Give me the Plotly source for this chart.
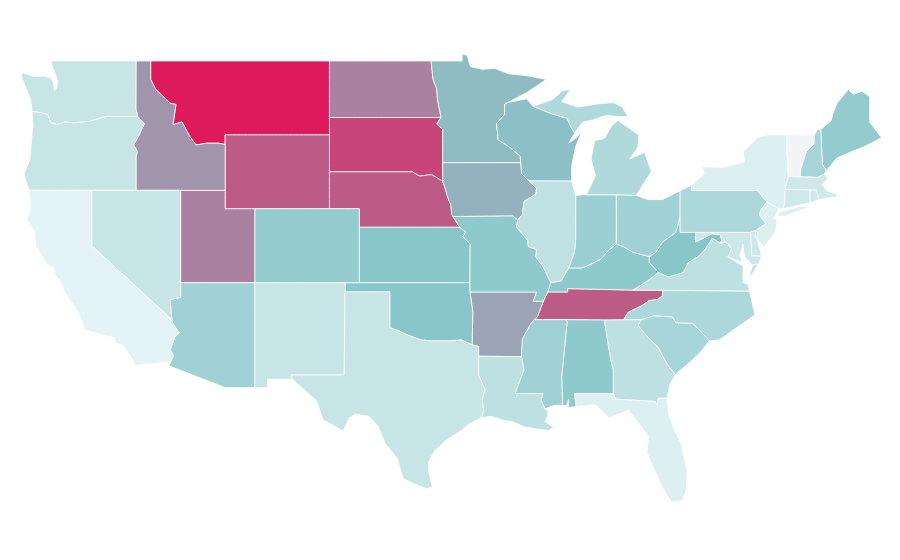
import plotly.graph_objects as go

states = ["MT","SD","WY","NE","TN","ND","UT","ID","AR","IA","MN","WI","KS","OK","WV","MO","AL","ME","CO","KY","IN","AZ","MS","OH","NH","PA","NC","SC","MI","VA","IL","WA","OR","NV","NM","TX","LA","GA","MD","DE","CT","RI","MA","NY","NJ","FL","CA","VT"]
values = [100,85,77,77,77,64,64,57,52,47,44,42,40,40,40,38,38,36,36,38,33,31,32,31,29,26,26,28,25,20,19,16,16,16,16,16,20,20,14,14,13,13,13,8,8,8,5,0]

scale_stops = [0, 5, 40, 100]
scale_colors = [(242,244,246), (228,243,245), (137,198,202), (220,26,92)]

# Simplified state outlines, as longitude / latitude boundary data
outlines = {
"WA": [[(-122.76,49),(-117.03,49),(-117.04,46.42),(-116.92,46),(-118.98,46),(-119.3,45.93),(-120.2,45.73),(-121.2,45.65),(-121.8,45.7),(-122.3,45.55),(-122.75,45.65),(-122.95,46.1),(-123.4,46.2),(-124,46.27),(-124.1,46.9),(-124.4,47.5),(-124.73,48.17),(-124.65,48.38),(-123.9,48.16),(-123.15,48.17),(-122.8,48.1),(-122.6,47.9),(-122.5,47.4),(-122.35,47.5),(-122.3,47.95),(-122.5,48.4)]],
"OR": [[(-124,46.27),(-123.4,46.2),(-122.95,46.1),(-122.75,45.65),(-122.3,45.55),(-121.8,45.7),(-121.2,45.65),(-120.2,45.73),(-119.3,45.93),(-118.98,46),(-116.92,46),(-116.48,45.6),(-116.85,44.95),(-117.2,44.45),(-117.03,44.25),(-116.95,44.1),(-117.03,43.8),(-117.03,42),(-124.21,42),(-124.55,42.85),(-124.15,43.7),(-124.05,44.7),(-123.95,45.5)]],
"CA": [[(-124.21,42),(-120,42),(-120,39),(-114.63,35),(-114.57,34.8),(-114.14,34.3),(-114.43,34.05),(-114.72,33.4),(-114.52,33.03),(-114.72,32.72),(-117.12,32.53),(-117.25,32.85),(-117.9,33.6),(-118.4,33.75),(-118.5,34.03),(-119.2,34.15),(-120.5,34.45),(-120.65,34.9),(-120.9,35.4),(-121.9,36.6),(-122,36.95),(-122.5,37.5),(-122.5,37.8),(-123,38),(-123.75,39),(-123.85,39.8),(-124.35,40.4),(-124.1,41)]],
"NV": [[(-120,42),(-114.04,42),(-114.04,36.2),(-114.75,36.1),(-114.63,35),(-120,39)]],
"ID": [[(-117.03,49),(-116.05,49),(-116.05,48),(-115.7,47.45),(-114.7,46.7),(-114.35,46.65),(-114.55,45.55),(-113.95,45.7),(-113.45,44.95),(-113,44.45),(-112.3,44.55),(-111.5,44.55),(-111.05,44.48),(-111.05,42),(-117.03,42),(-117.03,43.8),(-116.95,44.1),(-117.03,44.25),(-117.2,44.45),(-116.85,44.95),(-116.48,45.6),(-116.92,46),(-117.04,46.42)]],
"MT": [[(-116.05,49),(-104.05,49),(-104.05,45),(-111.05,45),(-111.05,44.48),(-111.5,44.55),(-112.3,44.55),(-113,44.45),(-113.45,44.95),(-113.95,45.7),(-114.55,45.55),(-114.35,46.65),(-114.7,46.7),(-115.7,47.45),(-116.05,48)]],
"WY": [[(-111.05,45),(-104.05,45),(-104.05,41),(-111.05,41)]],
"UT": [[(-114.04,42),(-111.05,42),(-111.05,41),(-109.05,41),(-109.05,37),(-114.04,37)]],
"CO": [[(-109.05,41),(-102.05,41),(-102.05,37),(-109.05,37)]],
"AZ": [[(-114.04,37),(-109.05,37),(-109.05,31.33),(-111.07,31.33),(-114.81,32.5),(-114.72,32.72),(-114.52,33.03),(-114.72,33.4),(-114.43,34.05),(-114.14,34.3),(-114.57,34.8),(-114.63,35),(-114.75,36.1),(-114.04,36.2)]],
"NM": [[(-109.05,37),(-103,37),(-103,36.5),(-103.06,32),(-106.62,32),(-106.53,31.78),(-108.21,31.78),(-108.21,31.33),(-109.05,31.33)]],
"ND": [[(-104.05,49),(-97.23,49),(-97.1,48),(-96.85,47.5),(-96.8,46.9),(-96.56,45.94),(-104.05,45.94)]],
"SD": [[(-104.05,45.94),(-96.56,45.94),(-96.85,45.6),(-96.45,45.3),(-96.45,43.5),(-96.45,42.49),(-97.2,42.85),(-98,42.77),(-98.5,43),(-104.05,43)]],
"NE": [[(-104.05,43),(-98.5,43),(-98,42.77),(-97.2,42.85),(-96.45,42.49),(-96.25,42),(-96.1,41.6),(-95.9,41.2),(-95.85,40.7),(-95.31,40),(-102.05,40),(-102.05,41),(-104.05,41)]],
"KS": [[(-102.05,40),(-95.31,40),(-94.9,39.75),(-95.1,39.5),(-94.61,39.1),(-94.62,37),(-102.05,37)]],
"OK": [[(-103,37),(-94.62,37),(-94.62,36.5),(-94.43,35.4),(-94.48,33.64),(-95.2,33.9),(-96,33.85),(-96.6,33.85),(-97.2,33.85),(-97.9,33.9),(-98.9,34.2),(-99.4,34.4),(-100,34.56),(-100,36.5),(-103,36.5)]],
"TX": [[(-103,36.5),(-100,36.5),(-100,34.56),(-99.4,34.4),(-98.9,34.2),(-97.9,33.9),(-97.2,33.85),(-96.6,33.85),(-96,33.85),(-95.2,33.9),(-94.48,33.64),(-94.04,33.55),(-94.04,33.02),(-94.04,32),(-93.6,31.2),(-93.8,30.7),(-93.7,30.1),(-93.85,29.7),(-94.7,29.35),(-95.2,29),(-96.2,28.5),(-97,27.9),(-97.4,27.3),(-97.4,26.8),(-97.15,25.95),(-97.55,25.85),(-98.3,26.1),(-99.1,26.4),(-99.5,27.5),(-100.3,28.3),(-100.8,29.25),(-101.4,29.77),(-102.3,29.88),(-102.7,29.7),(-103.15,28.98),(-104.5,29.6),(-104.9,30.6),(-106,31.4),(-106.53,31.78),(-106.62,32),(-103.06,32)]],
"MN": [[(-97.23,49),(-95.15,49),(-95.15,49.38),(-94.8,49.3),(-94.6,48.7),(-93.8,48.55),(-92.95,48.6),(-92,48.3),(-90.8,48.2),(-89.5,48),(-90.8,47.3),(-92.1,46.75),(-92.3,46.65),(-92.3,46.1),(-92.85,45.6),(-92.75,45),(-92.75,44.75),(-91.9,44.3),(-91.25,43.85),(-91.22,43.5),(-96.45,43.5),(-96.45,45.3),(-96.85,45.6),(-96.56,45.94),(-96.8,46.9),(-96.85,47.5),(-97.1,48)]],
"IA": [[(-96.45,43.5),(-91.22,43.5),(-91.15,42.9),(-90.64,42.51),(-90.15,42.1),(-90.2,41.8),(-91,41.4),(-91.1,40.7),(-91.42,40.38),(-91.73,40.61),(-95.77,40.58),(-95.85,40.7),(-95.9,41.2),(-96.1,41.6),(-96.25,42),(-96.45,42.49)]],
"MO": [[(-95.77,40.58),(-91.73,40.61),(-91.42,40.38),(-91.5,40),(-90.75,39.3),(-90.7,38.95),(-90.15,38.8),(-90.2,38.4),(-89.7,37.85),(-89.2,37),(-89.4,36.5),(-89.7,36),(-90.37,36),(-90.15,36.5),(-94.62,36.5),(-94.62,37),(-94.61,39.1),(-95.1,39.5),(-94.9,39.75),(-95.31,40)]],
"AR": [[(-94.62,36.5),(-90.15,36.5),(-90.37,36),(-89.7,36),(-90.1,35.15),(-90.3,35),(-90.6,34.7),(-91.1,33.95),(-91.17,33),(-94.04,33.02),(-94.04,33.55),(-94.48,33.64),(-94.43,35.4)]],
"LA": [[(-94.04,33.02),(-91.17,33),(-91,32.3),(-91.6,31),(-89.73,31),(-89.85,30.65),(-89.6,30.18),(-89.4,30.05),(-89.4,29.75),(-89.6,29.5),(-89,29.15),(-89.4,29),(-90.2,29.1),(-91,29.2),(-91.8,29.5),(-92.3,29.53),(-93.2,29.77),(-93.85,29.7),(-93.7,30.1),(-93.8,30.7),(-93.6,31.2),(-94.04,32)]],
"MS": [[(-90.3,35),(-88.2,35),(-88.1,34.9),(-88.47,31.9),(-88.4,30.35),(-88.9,30.38),(-89.6,30.18),(-89.85,30.65),(-89.73,31),(-91.6,31),(-91,32.3),(-91.17,33),(-91.1,33.95),(-90.6,34.7)]],
"TN": [[(-90.3,35),(-90.1,35.15),(-89.7,36),(-89.4,36.5),(-88.07,36.5),(-88.07,36.68),(-83.67,36.6),(-81.68,36.59),(-81.7,36.3),(-82,36.1),(-82.6,36.03),(-83.1,35.75),(-84,35.4),(-84.32,34.99),(-85.6,34.98),(-88.2,35)]],
"KY": [[(-89.4,36.5),(-89.2,37),(-88.5,37.1),(-88,37.8),(-87.1,37.8),(-86.5,38),(-85.8,38.3),(-85.4,38.7),(-84.8,39.1),(-84.3,38.95),(-83.7,38.65),(-82.6,38.42),(-82.6,38.1),(-81.97,37.54),(-82.7,37.1),(-83.67,36.6),(-88.07,36.68),(-88.07,36.5)]],
"IL": [[(-91.42,40.38),(-91.1,40.7),(-91,41.4),(-90.2,41.8),(-90.15,42.1),(-90.64,42.51),(-87.8,42.5),(-87.53,41.7),(-87.53,39.35),(-87.6,38.7),(-88,37.8),(-88.5,37.1),(-89.2,37),(-89.7,37.85),(-90.2,38.4),(-90.15,38.8),(-90.7,38.95),(-90.75,39.3),(-91.5,40)]],
"IN": [[(-87.53,41.7),(-87.2,41.75),(-86.8,41.76),(-84.8,41.76),(-84.8,39.1),(-85.4,38.7),(-85.8,38.3),(-86.5,38),(-87.1,37.8),(-88,37.8),(-87.6,38.7),(-87.53,39.35)]],
"OH": [[(-84.8,41.76),(-83.45,41.73),(-82.7,41.5),(-81.7,41.5),(-80.52,41.98),(-80.52,40.64),(-80.7,40),(-80.85,39.7),(-81.7,39.2),(-82.2,38.6),(-82.6,38.42),(-83.7,38.65),(-84.3,38.95),(-84.8,39.1)]],
"MI": [[(-86.8,41.76),(-84.8,41.76),(-83.45,41.73),(-83.1,42.2),(-82.45,43),(-82.9,44.05),(-83.9,43.7),(-83.35,44.35),(-83.3,45),(-84.7,45.78),(-85.1,45.5),(-85.6,44.8),(-86.25,44.7),(-86.5,43.7),(-86.2,42.8)],
       [(-90.4,46.55),(-89.1,46.9),(-88.4,47.4),(-87.9,47.45),(-88.45,46.8),(-87.4,46.5),(-86.1,46.67),(-85,46.75),(-84.4,46.5),(-84,45.98),(-84.7,46),(-85.5,46.05),(-86.4,45.8),(-87.05,45.7),(-87.6,45.1),(-87.8,45.35),(-88.1,45.9),(-89.1,46.13)]],
"WI": [[(-92.3,46.65),(-92.1,46.75),(-90.8,46.95),(-90.4,46.55),(-89.1,46.13),(-88.1,45.9),(-87.8,45.35),(-87.6,45.1),(-88,44.55),(-87.4,44.9),(-87.1,45.25),(-87.55,44.3),(-87.8,43.3),(-87.8,42.5),(-90.64,42.51),(-91.15,42.9),(-91.22,43.5),(-91.25,43.85),(-91.9,44.3),(-92.75,44.75),(-92.75,45),(-92.85,45.6),(-92.3,46.1)]],
"AL": [[(-88.2,35),(-85.6,34.98),(-85.18,32.87),(-85,32.3),(-85,31),(-87.6,31),(-87.5,30.3),(-88,30.25),(-88,30.7),(-88.15,30.35),(-88.4,30.35),(-88.47,31.9),(-88.1,34.9)]],
"GA": [[(-85.6,34.98),(-83.11,35),(-83.35,34.7),(-82.75,34.1),(-82,33.5),(-81.4,32.6),(-80.85,32.03),(-81.2,31.5),(-81.4,30.75),(-81.97,30.75),(-82.05,30.36),(-82.2,30.57),(-84.86,30.7),(-85,31),(-85,32.3),(-85.18,32.87)]],
"FL": [[(-87.6,31),(-85,31),(-84.86,30.7),(-82.2,30.57),(-82.05,30.36),(-81.97,30.75),(-81.4,30.75),(-81.3,29.9),(-80.9,29),(-80.5,28.4),(-80.05,26.9),(-80.1,25.8),(-80.4,25.2),(-81.1,25.13),(-81.7,25.9),(-82.15,26.7),(-82.75,27.8),(-82.65,28.7),(-83.4,29.5),(-84,30.1),(-85.3,29.68),(-86.2,30.4),(-87.5,30.3)]],
"SC": [[(-83.11,35),(-82.3,35.2),(-81.05,35.15),(-80.8,34.82),(-79.67,34.8),(-78.55,33.86),(-79.2,33.2),(-80,32.6),(-80.85,32.03),(-81.4,32.6),(-82,33.5),(-82.75,34.1),(-83.35,34.7)]],
"NC": [[(-84.32,34.99),(-84,35.4),(-83.1,35.75),(-82.6,36.03),(-82,36.1),(-81.7,36.3),(-81.68,36.59),(-75.87,36.55),(-75.5,35.25),(-76.5,34.7),(-77.9,33.9),(-78.55,33.86),(-79.67,34.8),(-80.8,34.82),(-81.05,35.15),(-82.3,35.2),(-83.11,35)]],
"VA": [[(-83.67,36.6),(-82.7,37.1),(-81.97,37.54),(-81.3,37.3),(-80.3,37.55),(-79.95,38.1),(-79.3,38.42),(-78.87,38.77),(-78.35,39.4),(-77.83,39.13),(-77.45,39.22),(-77.05,38.85),(-77.3,38.4),(-76.3,37.9),(-76.3,37),(-75.95,36.9),(-75.87,36.55),(-81.68,36.59)],
       [(-75.95,37.15),(-75.65,37.95),(-75.25,38.03)]],
"WV": [[(-82.6,38.42),(-82.2,38.6),(-81.7,39.2),(-80.85,39.7),(-80.7,40),(-80.52,40.64),(-80.52,39.72),(-79.48,39.72),(-79.48,39.2),(-78.4,39.65),(-77.83,39.6),(-77.72,39.32),(-77.83,39.13),(-78.35,39.4),(-78.87,38.77),(-79.3,38.42),(-79.95,38.1),(-80.3,37.55),(-81.3,37.3),(-81.97,37.54),(-82.6,38.1)]],
"MD": [[(-79.48,39.72),(-75.79,39.72),(-75.7,38.46),(-75.05,38.45),(-75.25,38.03),(-75.65,37.95),(-76.2,38.4),(-76.3,39.1),(-76.5,38.5),(-76.35,38.1),(-77.3,38.4),(-77.05,38.85),(-77.45,39.22),(-77.83,39.13),(-77.72,39.32),(-77.83,39.6),(-78.4,39.65),(-79.48,39.2)]],
"DE": [[(-75.79,39.72),(-75.5,39.83),(-75.4,39.5),(-75.05,38.45),(-75.7,38.46)]],
"PA": [[(-80.52,41.98),(-79.76,42.27),(-79.76,42),(-75.35,42),(-74.7,41.36),(-75.1,40.95),(-75.2,40.65),(-74.75,40.2),(-75.45,39.82),(-75.5,39.83),(-75.79,39.72),(-80.52,39.72),(-80.52,40.64)]],
"NJ": [[(-74.7,41.36),(-73.9,41),(-74.25,40.48),(-74,40.4),(-74.1,39.75),(-74.9,38.95),(-75.5,39.5),(-75.45,39.82),(-74.75,40.2),(-75.2,40.65),(-75.1,40.95)]],
"NY": [[(-79.76,42.27),(-78.9,42.9),(-79.05,43.27),(-77.5,43.25),(-76.2,43.55),(-76.3,44.1),(-75.3,44.85),(-74.7,45),(-73.35,45),(-73.35,44),(-73.25,42.75),(-73.5,42.05),(-73.5,41.3),(-73.65,41),(-73.9,41),(-74.7,41.36),(-75.35,42),(-79.76,42)],
       [(-74,40.6),(-73.75,40.85),(-72.3,41.15),(-71.9,41.07),(-73.5,40.6)]],
"CT": [[(-73.5,42.05),(-71.8,42.02),(-71.8,41.33),(-73.65,41),(-73.5,41.3)]],
"RI": [[(-71.8,42.02),(-71.38,42.02),(-71.2,41.5),(-71.8,41.33)]],
"MA": [[(-73.25,42.75),(-71.3,42.7),(-70.85,42.87),(-70.6,42.65),(-71,42.3),(-70.6,41.95),(-70,41.78),(-70.25,42.05),(-69.95,41.67),(-71.2,41.5),(-71.38,42.02),(-73.5,42.05)]],
"VT": [[(-73.35,45),(-71.5,45),(-71.55,44.5),(-72.05,44.1),(-72.45,43.1),(-72.46,42.73),(-73.25,42.75),(-73.35,44)]],
"NH": [[(-71.5,45),(-71.3,45.3),(-71.08,45.3),(-70.98,43.4),(-70.7,43.07),(-70.85,42.87),(-71.3,42.7),(-72.46,42.73),(-72.45,43.1),(-72.05,44.1),(-71.55,44.5)]],
"ME": [[(-71.08,45.3),(-70.4,45.75),(-70.25,46.2),(-70,46.7),(-69.23,47.46),(-68.9,47.2),(-68.3,47.36),(-67.8,47.07),(-67.8,45.7),(-67.45,45.3),(-67,44.85),(-68.2,44.35),(-69,44.1),(-70,43.75),(-70.7,43.07),(-70.98,43.4)]],
}

LAT_STRETCH = 1.24
LAT_ORIGIN = 37


def color_for(value):
    for low, high, c0, c1 in zip(scale_stops, scale_stops[1:], scale_colors, scale_colors[1:]):
        if value <= high:
            t = (value - low) / (high - low)
            r, g, b = [round(a + (b - a) * t) for a, b in zip(c0, c1)]
            return f"rgb({r},{g},{b})"
    return "rgb({},{},{})".format(*scale_colors[-1])


def clockwise(ring):
    area = sum(a[0] * b[1] - b[0] * a[1] for a, b in zip(ring, ring[1:] + ring[:1]))
    ordered = ring[::-1] if area > 0 else ring
    return list(ordered) + [ordered[0]]


def ring_lists(rings):
    """Subdivide long edges so borders stay straight instead of following great circles."""
    lons, lats = [], []
    for ring in rings:
        closed = clockwise(ring)
        for a, b in zip(closed, closed[1:]):
            steps = max(1, int(max(abs(b[0] - a[0]), abs(b[1] - a[1])) / 0.25))
            for k in range(steps):
                lons.append(a[0] + (b[0] - a[0]) * k / steps)
                lat = a[1] + (b[1] - a[1]) * k / steps
                lats.append(LAT_ORIGIN + LAT_STRETCH * (lat - LAT_ORIGIN))
        lons.append(closed[-1][0])
        lats.append(LAT_ORIGIN + LAT_STRETCH * (closed[-1][1] - LAT_ORIGIN))
        lons.append(None)
        lats.append(None)
    return lons[:-1], lats[:-1]


fig = go.Figure()
for code, value in zip(states, values):
    lons, lats = ring_lists(outlines[code])
    fig.add_trace(go.Scattergeo(
        lon=lons, lat=lats, mode="lines", fill="toself",
        fillcolor=color_for(value),
        line=dict(color="white", width=0.8),
        name=code, text=f"{code}: {value}", hoverinfo="text", showlegend=False,
    ))

fig.update_geos(
    projection_type="equirectangular",
    lonaxis_range=[-125.44, -65.41],
    lataxis_range=[17.97, 55.32],
    showland=False, showlakes=False, showocean=False, showrivers=False,
    showcountries=False, showcoastlines=False, showsubunits=False,
    showframe=False, bgcolor="white",
)
fig.update_layout(width=900, height=560, margin=dict(l=0, r=0, t=0, b=0), paper_bgcolor="white", showlegend=False)
fig.write_html("out.html")
